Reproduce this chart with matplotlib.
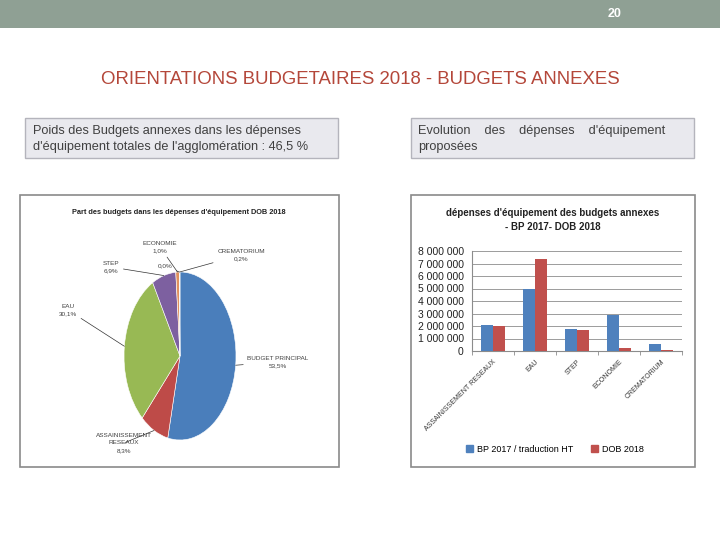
import numpy as np
import matplotlib
matplotlib.use("Agg")
import matplotlib.pyplot as plt
import matplotlib.ticker as ticker
from matplotlib.patches import Rectangle, Patch

plt.rcParams["font.family"] = ["Liberation Sans", "DejaVu Sans"]

# pie: share of each budget in DOB 2018 equipment spending (%)
pie_names = ["BUDGET PRINCIPAL", "ASSAINISSEMENT\nRESEAUX", "EAU", "STEP", "ECONOMIE", "", "CREMATORIUM"]
pie_values = [53.5, 8.3, 30.1, 6.9, 1.0, 0.0, 0.2]
pie_colors = ["#4a7ebb", "#be4b48", "#98b954", "#7d60a0", "#e0915e", "#f0a070", "#c8c8d0"]

# bars: equipment spending of the annex budgets
bar_categories = ["ASSAINISSEMENT RESEAUX", "EAU", "STEP", "ECONOMIE", "CREMATORIUM"]
bp_2017 = [2100000, 5000000, 1800000, 2900000, 600000]
dob_2018 = [2020000, 7400000, 1700000, 250000, 50000]
series_names = ["BP 2017 / traduction HT", "DOB 2018"]

W, H = 720, 540
fig = plt.figure(figsize=(7.2, 5.4), dpi=100)


def ff(x, y):
    # pixel position (top-left origin) -> figure fraction
    return x / W, 1 - y / H


def box(x0, y0, x1, y1, fc, ec, lw=1.0):
    fig.patches.append(Rectangle(ff(x0, y1), (x1 - x0) / W, (y1 - y0) / H,
                                 transform=fig.transFigure, fc=fc, ec=ec, lw=lw, zorder=-1))


# slide decoration
box(0, 0, 720, 28, "#8fa094", "none")
fig.text(*ff(615, 14), "20", color="white", fontsize=9, fontweight="bold", ha="center", va="center")
fig.text(*ff(360, 80), "ORIENTATIONS BUDGETAIRES 2018 - BUDGETS ANNEXES",
         family=["Liberation Sans Narrow", "Liberation Sans"], fontsize=13.4,
         color="#b4473a", ha="center", va="center")

box(25, 118, 338, 158, "#e9e9ee", "#b4b4bc")
fig.text(*ff(33, 139), "Poids des Budgets annexes dans les dépenses\n"
         "d'équipement totales de l'agglomération : 46,5 %",
         fontsize=9.2, color="#404040", va="center", linespacing=1.45)
box(411, 118, 694, 158, "#e9e9ee", "#b4b4bc")
fig.text(*ff(418, 139), "Evolution    des    dépenses    d'équipement\nproposées",
         fontsize=9.2, color="#404040", va="center", linespacing=1.45)

box(20, 195, 339, 467, "white", "#8a8a8a", 1.2)
box(411, 195, 695, 467, "white", "#8a8a8a", 1.2)

# ---- pie chart ----
cx, cy, rx, ry = 180, 356, 56, 84
ax1 = fig.add_axes([(cx - rx) / W, 1 - (cy + ry) / H, 2 * rx / W, 2 * ry / H])
wedges, _ = ax1.pie(pie_values, colors=pie_colors, startangle=90, counterclock=False,
                    wedgeprops=dict(edgecolor="white", linewidth=0.4))
ax1.set_aspect("auto")
ax1.set_xlim(-1, 1)
ax1.set_ylim(-1, 1)
fig.text(*ff(179, 213), "Part des budgets dans les dépenses d'équipement DOB 2018",
         fontsize=5.3, fontweight="bold", color="#222222", ha="center", va="center")

label_pos = [(278, 362), (124, 443), (68, 310), (111, 267), (160, 247), (165, 266), (241, 255)]
for w, name, v, pos in zip(wedges, pie_names, pie_values, label_pos):
    ang = np.deg2rad((w.theta1 + w.theta2) / 2)
    pct = f"{v:.1f}".replace(".", ",") + "%"
    txt = f"{name}\n{pct}" if name else pct
    ax1.annotate(txt, xy=(np.cos(ang), np.sin(ang)), xytext=ff(*pos), textcoords="figure fraction",
                 fontsize=4.6, color="#404040", ha="center", va="center", linespacing=1.6,
                 arrowprops=dict(arrowstyle="-", lw=0.5, color="#333333", shrinkA=1, shrinkB=0))

# ---- bar chart ----
ax2 = fig.add_axes([472 / W, 1 - 351 / H, 210 / W, 100 / H])
x = np.arange(len(bar_categories))
bw = 0.29
ax2.bar(x - bw / 2, bp_2017, bw, color="#4f81bd", label=series_names[0], zorder=3)
ax2.bar(x + bw / 2, dob_2018, bw, color="#c0504d", label=series_names[1], zorder=3)
ax2.set_xlim(-0.5, len(bar_categories) - 0.5)
ax2.set_ylim(0, 8000000)
ax2.yaxis.set_major_locator(ticker.MultipleLocator(1000000))
ax2.yaxis.set_major_formatter(ticker.FuncFormatter(lambda v, p: f"{int(v):,}".replace(",", " ")))
ax2.grid(axis="y", color="#8c8c8c", lw=0.6, zorder=0)
for s in ["top", "right"]:
    ax2.spines[s].set_visible(False)
ax2.spines["left"].set_color("#8c8c8c")
ax2.spines["bottom"].set_color("#8c8c8c")
ax2.tick_params(axis="y", length=0, labelsize=7.5, pad=6, labelcolor="#222222")
ax2.set_xticks(x)
ax2.set_xticklabels(bar_categories, rotation=45, ha="right", rotation_mode="anchor",
                    fontsize=5.0, color="#333333")
ax2.tick_params(axis="x", which="major", length=0, pad=5)
ax2.set_xticks(np.arange(-0.5, len(bar_categories)), minor=True)
ax2.tick_params(axis="x", which="minor", length=3, color="#8c8c8c")
fig.text(*ff(553, 220), "dépenses d'équipement des budgets annexes\n- BP 2017- DOB 2018",
         fontsize=7, fontweight="bold", color="#222222", ha="center", va="center", linespacing=1.5)
fig.legend(handles=[Patch(color="#4f81bd"), Patch(color="#c0504d")], labels=series_names,
           loc="center", bbox_to_anchor=ff(555, 449), ncol=2, frameon=False, fontsize=6.5,
           handlelength=0.8, handleheight=0.8, handletextpad=0.4, columnspacing=2.0)

fig.savefig("out.png", dpi=100)
